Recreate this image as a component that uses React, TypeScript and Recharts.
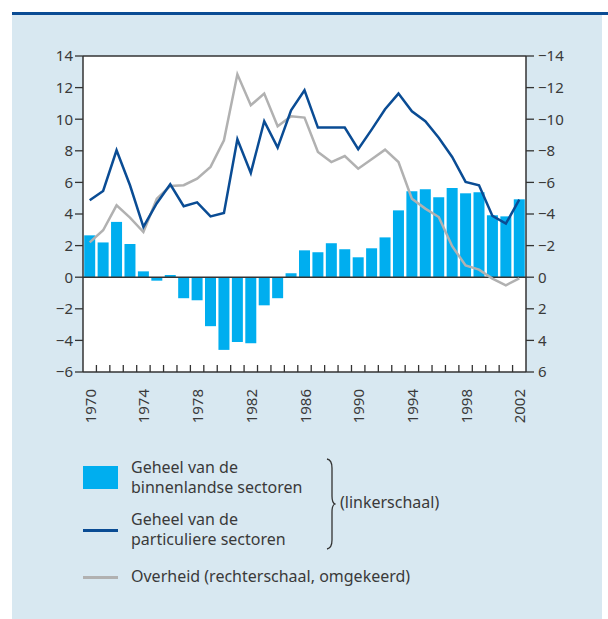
import { ComposedChart, Bar, Line, XAxis, YAxis, ReferenceLine, CartesianGrid } from 'recharts'

const years = [
  1970, 1971, 1972, 1973, 1974, 1975, 1976, 1977, 1978, 1979, 1980,
  1981, 1982, 1983, 1984, 1985, 1986, 1987, 1988, 1989, 1990, 1991,
  1992, 1993, 1994, 1995, 1996, 1997, 1998, 1999, 2000, 2001, 2002,
]

// Geheel van de binnenlandse sectoren (linkerschaal)
const binnenlands = [
  2.65, 2.2, 3.5, 2.1, 0.37, -0.22, 0.14, -1.33, -1.46, -3.1, -4.6,
  -4.1, -4.18, -1.78, -1.33, 0.25, 1.7, 1.58, 2.15, 1.77, 1.26, 1.83,
  2.52, 4.23, 5.44, 5.56, 5.06, 5.65, 5.31, 5.37, 3.92, 3.85, 4.93,
]

// Geheel van de particuliere sectoren (linkerschaal)
const particulier = [
  4.87, 5.46, 8.03, 5.82, 3.18, 4.68, 5.88, 4.49, 4.74, 3.85, 4.06,
  8.73, 6.6, 9.87, 8.2, 10.56, 11.83, 9.47, 9.47, 9.47, 8.1, 9.34,
  10.63, 11.62, 10.5, 9.87, 8.83, 7.61, 6.03, 5.82, 3.88, 3.39, 4.91,
]

// Overheid (rechterschaal, omgekeerd)
const overheid = [
  -2.2, -2.97, -4.55, -3.77, -2.86, -4.97, -5.77, -5.82, -6.24, -6.98, -8.66,
  -12.84, -10.88, -11.62, -9.55, -10.18, -10.1, -7.93, -7.29, -7.67, -6.87, -7.46,
  -8.07, -7.29, -4.97, -4.34, -3.81, -1.96, -0.75, -0.48, 0.09, 0.51, 0.07,
]

const leftTicks = [-6, -4, -2, 0, 2, 4, 6, 8, 10, 12, 14]
const rightTicks = [-14, -12, -10, -8, -6, -4, -2, 0, 2, 4, 6]

const data = years.map((year, i) => ({
  year,
  binnenlands: binnenlands[i],
  particulier: particulier[i],
  overheid: overheid[i],
}))

const FONT = '"Noto Sans", "DejaVu Sans", sans-serif'
const AXIS = '#333333'
const TEXT = '#3a3a3a'
const CYAN = '#00aeef'
const NAVY = '#0a4c94'
const GREY = '#b1b1b1'
const PANEL = '#d8e8f1'

const PLOT_WIDTH = 608 - 83 - 82
const BAND = PLOT_WIDTH / years.length

const fmt = (v: number) => String(v).replace('-', '\u2212')

function YearTick(props: any) {
  const { x, y, payload, index } = props
  const year = payload.value as number
  return (
    <g>
      {index > 0 && (
        <line x1={x - BAND / 2} x2={x - BAND / 2} y1={y} y2={y - 7} stroke={AXIS} strokeWidth={1.3} />
      )}
      {(year - 1970) % 4 === 0 && (
        <text
          x={x}
          y={y + 17}
          transform={`rotate(-90, ${x}, ${y + 17})`}
          textAnchor="end"
          dominantBaseline="central"
          fontSize={15}
          fill={TEXT}
        >
          {year}
        </text>
      )}
    </g>
  )
}

const label = (left: number, top: number, text: string) => (
  <div style={{ position: 'absolute', left, top, fontSize: 16, lineHeight: '19px', whiteSpace: 'nowrap', color: TEXT }}>
    {text}
  </div>
)

export default function App() {
  return (
    <div style={{ position: 'absolute', left: 0, top: 0, width: 608, height: 619, background: '#fff', fontFamily: FONT }}>
      <div style={{ position: 'absolute', left: 12, top: 14, width: 590, height: 605, background: PANEL }} />
      <div style={{ position: 'absolute', left: 12, top: 12, width: 596, height: 2.5, background: NAVY }} />

      <div style={{ position: 'absolute', left: 0, top: 0 }}>
        <ComposedChart
          width={608}
          height={440}
          data={data}
          margin={{ top: 56, right: 0, bottom: 0, left: 0 }}
          barCategoryGap={1.2}
        >
          <CartesianGrid fill="#ffffff" horizontal={false} vertical={false} yAxisId="left" />
          <XAxis
            dataKey="year"
            interval={0}
            height={68}
            tickSize={0}
            tickMargin={0}
            tickLine={false}
            axisLine={{ stroke: AXIS, strokeWidth: 1.5 }}
            tick={<YearTick />}
          />
          <YAxis
            yAxisId="left"
            domain={[-6, 14]}
            ticks={leftTicks}
            width={83}
            tickSize={8}
            tickMargin={2}
            tickFormatter={fmt}
            axisLine={{ stroke: AXIS, strokeWidth: 1.5 }}
            tickLine={{ stroke: AXIS, strokeWidth: 1.3 }}
            tick={{ fontSize: 15, fill: TEXT }}
            interval={0}
          />
          <YAxis
            yAxisId="right"
            orientation="right"
            reversed
            domain={[-14, 6]}
            ticks={rightTicks}
            width={82}
            tickSize={8}
            tickMargin={4}
            tickFormatter={fmt}
            axisLine={{ stroke: AXIS, strokeWidth: 1.5 }}
            tickLine={{ stroke: AXIS, strokeWidth: 1.3 }}
            tick={{ fontSize: 15, fill: TEXT }}
            interval={0}
          />
          <Bar yAxisId="left" dataKey="binnenlands" fill={CYAN} isAnimationActive={false} />
          <ReferenceLine yAxisId="left" y={0} stroke={AXIS} strokeWidth={1.5} />
          <ReferenceLine yAxisId="left" y={14} stroke={AXIS} strokeWidth={1.5} />
          <Line
            yAxisId="right"
            type="linear"
            dataKey="overheid"
            stroke={GREY}
            strokeWidth={2.5}
            dot={false}
            isAnimationActive={false}
          />
          <Line
            yAxisId="left"
            type="linear"
            dataKey="particulier"
            stroke={NAVY}
            strokeWidth={2.5}
            dot={false}
            isAnimationActive={false}
          />
        </ComposedChart>
      </div>

      {/* legenda */}
      <div style={{ position: 'absolute', left: 83, top: 466, width: 35, height: 23, background: CYAN }} />
      {label(131, 458, 'Geheel van de')}
      {label(131, 478, 'binnenlandse sectoren')}
      <div style={{ position: 'absolute', left: 83, top: 529, width: 35, height: 2.5, background: NAVY }} />
      {label(131, 510, 'Geheel van de')}
      {label(131, 530, 'particuliere sectoren')}
      <svg style={{ position: 'absolute', left: 322, top: 456 }} width={14} height={96}>
        <path d="M5 3 Q10 4 10 12 L10 40 Q10 47 13 48 Q10 49 10 56 L10 84 Q10 92 5 93" fill="none" stroke={AXIS} strokeWidth={1.3} />
      </svg>
      {label(340, 493, '(linkerschaal)')}
      <div style={{ position: 'absolute', left: 83, top: 576, width: 35, height: 2.5, background: GREY }} />
      {label(131, 567, 'Overheid (rechterschaal, omgekeerd)')}
    </div>
  )
}
